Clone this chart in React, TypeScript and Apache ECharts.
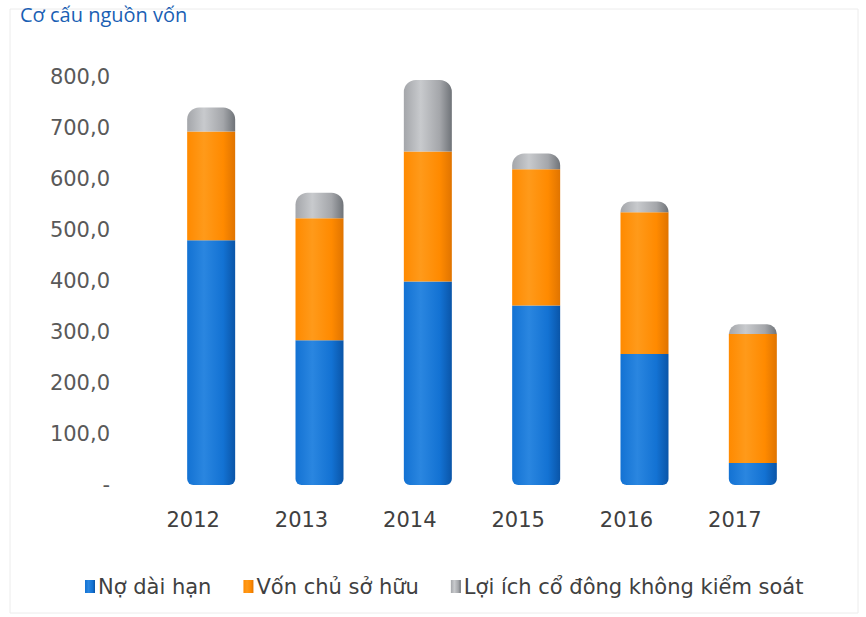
import React, { useEffect, useRef } from "react";
import * as echarts from "echarts";

const years = ["2012", "2013", "2014", "2015", "2016", "2017"];
const noDaiHan = [480, 284, 399, 352, 257, 43];
const vonChuSoHuu = [213, 239, 255, 267, 278, 253];
const loiIchCoDong = [47, 50, 140, 31, 21, 19];
const yTicks = [0, 100, 200, 300, 400, 500, 600, 700, 800];

function cyl(dark: string, mid: string, light: string) {
  return new echarts.graphic.LinearGradient(0, 0, 1, 0, [
    { offset: 0, color: mid },
    { offset: 0.35, color: light },
    { offset: 0.75, color: mid },
    { offset: 1, color: dark },
  ]);
}

export default function App() {
  const ref = useRef<HTMLDivElement>(null);
  useEffect(() => {
    if (!ref.current) return;
    const chart = echarts.init(ref.current, undefined, { renderer: "svg" });
    const font = "'DejaVu Sans', 'Noto Sans', sans-serif";
    chart.setOption({
      animation: false,
      backgroundColor: "#ffffff",
      textStyle: { fontFamily: font },
      graphic: [
        {
          type: "rect",
          shape: { x: 10, y: 9, width: 848, height: 604 },
          style: { fill: "none", stroke: "#ececec", lineWidth: 1 },
          silent: true,
        },
        {
          type: "text",
          x: 20,
          y: 4,
          style: {
            text: "Cơ cấu nguồn vốn",
            fill: "#1a5fb4",
            font: "20px 'Open Sans', 'Noto Sans', sans-serif",
          },
        },
      ],
      legend: {
        top: 571,
        left: 80,
        itemWidth: 10,
        itemHeight: 13,
        itemGap: 32,
        icon: "rect",
        textStyle: { fontSize: 21, color: "#404040", fontFamily: font, padding: [0, 0, 0, -2] },
        data: ["Nợ dài hạn", "Vốn chủ sở hữu", "Lợi ích cổ đông không kiểm soát"],
      },
      grid: { left: 157, right: 59, top: 77, bottom: 132 },
      xAxis: {
        type: "category",
        data: years,
        axisLine: { show: false },
        axisTick: { show: false },
        axisLabel: {
          fontSize: 21,
          color: "#404040",
          margin: 24,
          padding: [0, 36, 0, 0],
        },
      },
      yAxis: {
        type: "value",
        min: yTicks[0],
        max: yTicks[yTicks.length - 1],
        interval: 100,
        splitLine: { show: false },
        axisLine: { show: false },
        axisTick: { show: false },
        axisLabel: {
          fontSize: 21,
          color: "#595959",
          margin: 47,
          formatter: (v: number) => (v === 0 ? "-" : v.toFixed(1).replace(".", ",")),
        },
      },
      series: [
        {
          name: "Nợ dài hạn",
          type: "bar",
          stack: "s",
          barWidth: 48,
          data: noDaiHan,
          itemStyle: {
            color: cyl("#0a55a8", "#1372d3", "#2a86e0"),
            borderRadius: [0, 0, 6, 6],
          },
        },
        {
          name: "Vốn chủ sở hữu",
          type: "bar",
          stack: "s",
          barWidth: 48,
          data: vonChuSoHuu,
          itemStyle: { color: cyl("#e07400", "#ff8a00", "#ff9a1a") },
        },
        {
          name: "Lợi ích cổ đông không kiểm soát",
          type: "bar",
          stack: "s",
          barWidth: 48,
          data: loiIchCoDong,
          itemStyle: {
            color: cyl("#6f7378", "#a4a6aa", "#c8cacd"),
            borderRadius: [12, 12, 0, 0],
          },
        },
      ],
      color: ["#1372d3", "#ff8a00", "#8e9196"],
    });
    return () => chart.dispose();
  }, []);
  return (
    <div
      ref={ref}
      style={{ position: "absolute", left: 0, top: 0, width: 866, height: 617 }}
    />
  );
}
